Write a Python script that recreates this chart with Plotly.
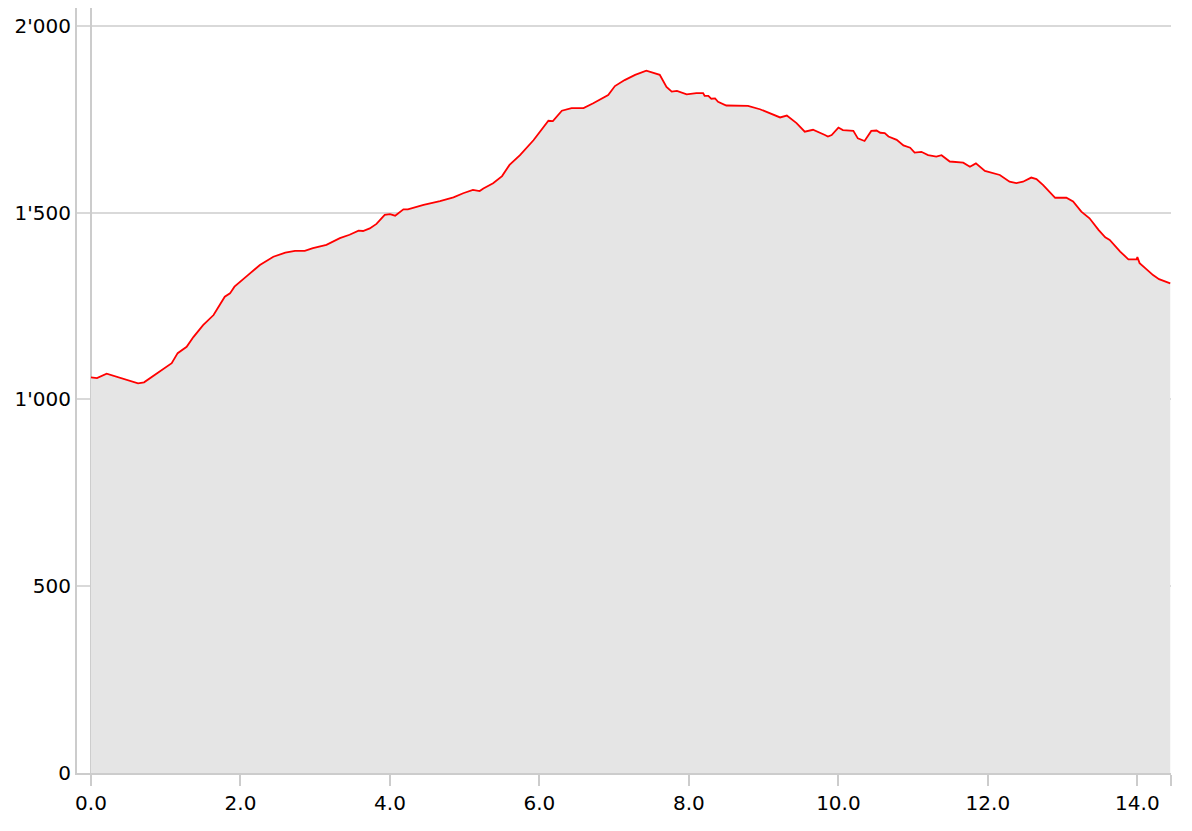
import plotly.graph_objects as go

distance_km = [
    0.0, 0.08, 0.21, 0.63, 0.71, 0.86, 1.03, 1.08, 1.16, 1.28,
    1.37, 1.50, 1.64, 1.79, 1.86, 1.92, 2.10, 2.26, 2.44, 2.60,
    2.73, 2.86, 2.97, 3.15, 3.33, 3.46, 3.58, 3.64, 3.73, 3.82,
    3.93, 4.00, 4.07, 4.18, 4.24, 4.45, 4.67, 4.85, 4.98, 5.11,
    5.20, 5.25, 5.38, 5.50, 5.60, 5.74, 5.92, 6.05, 6.12, 6.18,
    6.30, 6.43, 6.59, 6.72, 6.92, 7.01, 7.14, 7.28, 7.43, 7.61,
    7.70, 7.77, 7.84, 7.97, 8.10, 8.19, 8.21, 8.26, 8.30, 8.35,
    8.39, 8.50, 8.64, 8.79, 8.95, 9.08, 9.22, 9.31, 9.44, 9.55,
    9.66, 9.82, 9.86, 9.91, 10.00, 10.06, 10.20, 10.26, 10.35, 10.44,
    10.51, 10.56, 10.62, 10.67, 10.78, 10.87, 10.96, 11.02, 11.11, 11.20,
    11.31, 11.38, 11.49, 11.67, 11.76, 11.84, 11.96, 12.16, 12.29, 12.38,
    12.47, 12.58, 12.65, 12.74, 12.90, 13.05, 13.14, 13.25, 13.36, 13.48,
    13.57, 13.63, 13.77, 13.88, 13.99, 14.00, 14.03, 14.12, 14.21, 14.29,
    14.44,
]

elevation_m = [
    1059, 1057, 1069, 1043, 1046, 1066, 1088, 1097, 1124, 1141,
    1167, 1199, 1226, 1275, 1284, 1302, 1333, 1360, 1382, 1393,
    1398, 1398, 1405, 1414, 1432, 1441, 1452, 1451, 1458, 1470,
    1494, 1496, 1492, 1509, 1509, 1521, 1531, 1541, 1552, 1561,
    1558, 1565, 1579, 1598, 1628, 1654, 1694, 1730, 1746, 1745,
    1773, 1780, 1780, 1793, 1815, 1839, 1855, 1869, 1880, 1869,
    1837, 1824, 1826, 1817, 1820, 1820, 1813, 1813, 1805, 1806,
    1797, 1787, 1786, 1786, 1777, 1766, 1755, 1760, 1740, 1717,
    1722, 1708, 1704, 1708, 1728, 1721, 1719, 1699, 1692, 1719,
    1720, 1714, 1713, 1704, 1695, 1680, 1674, 1661, 1663, 1654,
    1650, 1654, 1637, 1634, 1623, 1632, 1612, 1601, 1583, 1579,
    1583, 1594, 1590, 1574, 1540, 1540, 1530, 1503, 1485, 1454,
    1434, 1427, 1396, 1375, 1375, 1381, 1365, 1349, 1333, 1322,
    1311,
]

x_tick_values = [0, 2, 4, 6, 8, 10, 12, 14, 14.45]
x_tick_labels = ["0.0", "2.0", "4.0", "6.0", "8.0", "10.0", "12.0", "14.0", ""]
y_tick_values = [0, 500, 1000, 1500, 2000]

fig = go.Figure()
fig.add_trace(go.Scatter(
    x=distance_km, y=elevation_m,
    mode="lines",
    line=dict(color="#ff0000", width=1.8),
    fill="tozeroy",
    fillcolor="#e5e5e5",
    hoverinfo="skip",
    showlegend=False,
))

fig.update_layout(
    width=1176, height=815,
    margin=dict(l=69, r=13, t=0, b=50),
    paper_bgcolor="white",
    plot_bgcolor="white",
    separators=".'",
    font=dict(family="DejaVu Sans", size=20, color="#000000"),
    xaxis=dict(
        range=[-0.187, 14.45],
        tickvals=x_tick_values,
        ticktext=x_tick_labels,
        ticks="outside", ticklen=11, tickwidth=2, tickcolor="#cccccc",
        showgrid=False,
        zeroline=True, zerolinecolor="#cccccc", zerolinewidth=2,
        showline=True, linecolor="#cccccc", linewidth=2,
    ),
    yaxis=dict(
        range=[0, 2048],
        tickvals=y_tick_values,
        tickformat=",d",
        ticks="",
        ticklabelstandoff=0,
        showgrid=True, gridcolor="#d9d9d9", gridwidth=2,
        zeroline=False,
        showline=True, linecolor="#cccccc", linewidth=2,
    ),
)

fig.write_html("out.html")
